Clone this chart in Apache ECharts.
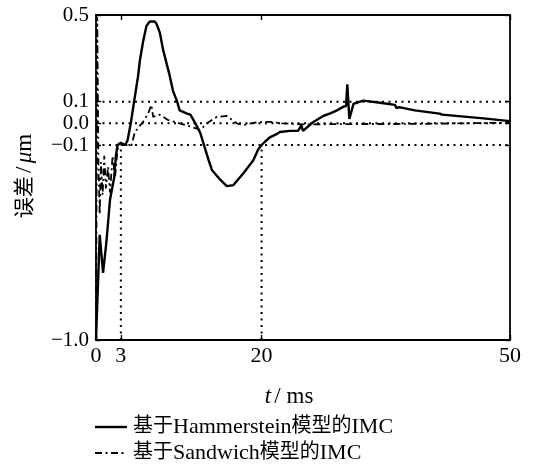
<!DOCTYPE html>
<html>
<head>
<meta charset="utf-8">
<script src="https://cdn.jsdelivr.net/npm/echarts@6/dist/echarts.min.js"></script>
<style>
  html, body { margin: 0; padding: 0; background: #fff; }
  #chart { width: 533px; height: 466px; }
</style>
</head>
<body>
<div id="chart"></div>
<script>
// Tracking error over time (ms) for two IMC controllers
const xTicks = [0, 3, 20, 50];
const yTicks = [-1.0, -0.1, 0.0, 0.1, 0.5];

// Dotted reference levels and the time markers dropped from -0.1
const refLevels = [0.1, 0.0, -0.1];
const refTimes = [3, 20];

// IMC based on the Hammerstein model (solid)
const hammT = [0, 0.45, 0.85, 1.25, 1.7, 2.2, 2.4, 2.6, 3.0, 3.5, 3.8, 4.2, 4.6, 5.07, 5.3, 5.7, 6.1, 6.5, 7.1, 7.3, 7.5, 7.7, 8.1, 8.9, 9.3, 9.8, 10.1, 11.0, 11.4, 12.0, 12.6, 13.2, 13.6, 14.0, 15.0, 15.8, 16.6, 17.8, 19.0, 19.6, 20.0, 20.4, 21.0, 21.8, 22.2, 23.4, 24.4, 24.8, 25.0, 26.2, 27.5, 28.3, 29.1, 29.9, 30.2, 30.35, 30.6, 31.1, 31.9, 32.3, 34.3, 36.1, 36.3, 36.6, 38.5, 41.5, 41.8, 46.8, 50];
const hammV = [-1.0, -0.515, -0.69, -0.55, -0.35, -0.25, -0.15, -0.1, -0.09, -0.1, -0.08, 0.0, 0.1, 0.215, 0.29, 0.38, 0.45, 0.47, 0.47, 0.46, 0.44, 0.42, 0.34, 0.22, 0.15, 0.1, 0.06, 0.045, 0.04, 0.0, -0.045, -0.12, -0.17, -0.215, -0.26, -0.29, -0.285, -0.23, -0.17, -0.12, -0.1, -0.085, -0.065, -0.05, -0.04, -0.035, -0.035, -0.01, -0.035, 0.005, 0.035, 0.046, 0.06, 0.077, 0.08, 0.18, 0.02, 0.09, 0.1, 0.105, 0.095, 0.085, 0.07, 0.075, 0.06, 0.045, 0.04, 0.023, 0.01];

// IMC based on the Sandwich model (dash-dot)
const sandT = [0, 0.15, 0.3, 0.45, 0.6, 0.8, 1.0, 1.2, 1.45, 1.7, 2.0, 2.3, 2.6, 3.0, 4.3, 4.7, 5.2, 5.7, 6.3, 6.7, 6.9, 7.7, 8.7, 10.1, 11.4, 12.6, 13.4, 14.6, 15.8, 17.0, 17.8, 19.4, 21.0, 22.5, 25.0, 28.0, 32.0, 36.0, 40.0, 44.0, 48.0, 50.0];
const sandV = [-1.0, 0.49, -0.2, -0.42, -0.18, -0.33, -0.15, -0.3, -0.2, -0.32, -0.15, -0.25, -0.12, -0.1, -0.1, -0.04, -0.015, 0.007, 0.046, 0.085, 0.03, 0.04, 0.015, 0.0, -0.015, -0.03, 0.0, 0.03, 0.034, 0.0, -0.008, 0.005, 0.007, 0.0, -0.005, -0.004, -0.003, -0.003, -0.002, 0.0, 0.002, 0.003];

const legendNames = ['基于Hammerstein模型的IMC', '基于Sandwich模型的IMC'];

const zip = (xs, ys) => xs.map((x, i) => [x, ys[i]]);
const SERIF = '"Liberation Serif", "Times New Roman", "Noto Sans CJK SC", serif';
const dotted = { color: '#000', width: 2, type: [2, 4.5] };
const DASHDOT = [7, 3.5, 2, 3.5];

const fmtY = v => (v < 0 ? '\u2212' : '') + Math.abs(v).toFixed(1);

const refSeries = [];
refLevels.forEach(lv => {
  refSeries.push({
    type: 'line', data: [[xTicks[0], lv], [xTicks[xTicks.length - 1], lv]],
    symbol: 'none', silent: true, z: 1, lineStyle: dotted
  });
});
refTimes.forEach(t => {
  refSeries.push({
    type: 'line', data: [[t, yTicks[0]], [t, refLevels[2]]],
    symbol: 'none', silent: true, z: 1, lineStyle: dotted
  });
});

const frameAxis = {
  axisLine: { show: true, onZero: false, lineStyle: { color: '#000', width: 1.8 } },
  splitLine: { show: false }
};
const tickStyle = { color: '#000', width: 1.4 };

const chart = echarts.init(document.getElementById('chart'), null, { renderer: 'canvas' });
chart.setOption({
  animation: false,
  backgroundColor: '#fff',
  grid: { left: 96, right: 23, top: 15, bottom: 126 },
  xAxis: [
    Object.assign({}, frameAxis, {
      type: 'value', min: 0, max: 50, position: 'bottom',
      axisTick: { show: true, inside: true, length: 5, customValues: xTicks, lineStyle: tickStyle },
      axisLabel: { customValues: xTicks, color: '#000', fontFamily: SERIF, fontSize: 22, margin: 5 }
    }),
    Object.assign({}, frameAxis, {
      type: 'value', min: 0, max: 50, position: 'top',
      axisTick: { show: true, inside: true, length: 5, customValues: xTicks, lineStyle: tickStyle },
      axisLabel: { show: false }
    })
  ],
  yAxis: [
    Object.assign({}, frameAxis, {
      type: 'value', min: -1, max: 0.5, position: 'left',
      axisTick: { show: true, inside: true, length: 5, customValues: yTicks, lineStyle: tickStyle },
      axisLabel: { customValues: yTicks, formatter: fmtY, color: '#000', fontFamily: SERIF, fontSize: 21, margin: 7 }
    }),
    Object.assign({}, frameAxis, {
      type: 'value', min: -1, max: 0.5, position: 'right',
      axisTick: { show: true, inside: true, length: 5, customValues: yTicks, lineStyle: tickStyle },
      axisLabel: { show: false }
    })
  ],
  series: refSeries.concat([
    {
      name: legendNames[1], type: 'line', data: zip(sandT, sandV),
      symbol: 'none', z: 3,
      lineStyle: { color: '#000', width: 1.8, type: DASHDOT }
    },
    {
      name: legendNames[0], type: 'line', data: zip(hammT, hammV),
      symbol: 'none', z: 4,
      lineStyle: { color: '#000', width: 2.4 }
    }
  ]),
  graphic: [
    {
      type: 'text', x: 25, y: 176, rotation: Math.PI / 2,
      style: {
        text: '{c|误差} {l|/} {i|μ}{l|m}',
        align: 'center', verticalAlign: 'middle', fill: '#000',
        rich: {
          c: { fontFamily: SERIF, fontSize: 21, fill: '#000' },
          l: { fontFamily: SERIF, fontSize: 23, fill: '#000' },
          i: { fontFamily: SERIF, fontSize: 23, fontStyle: 'italic', fill: '#000' }
        }
      }
    },
    {
      type: 'text', x: 289, y: 397,
      style: {
        text: '{i|t} {l|/ ms}',
        align: 'center', verticalAlign: 'middle', fill: '#000',
        rich: {
          i: { fontFamily: SERIF, fontSize: 23, fontStyle: 'italic', fill: '#000' },
          l: { fontFamily: SERIF, fontSize: 23, fill: '#000' }
        }
      }
    },
    {
      type: 'line', shape: { x1: 95, y1: 427, x2: 127, y2: 427 },
      style: { stroke: '#000', lineWidth: 2.4 }
    },
    {
      type: 'line', shape: { x1: 95, y1: 453, x2: 127, y2: 453 },
      style: { stroke: '#000', lineWidth: 1.8, lineDash: DASHDOT }
    },
    {
      type: 'text', x: 133, y: 427,
      style: {
        text: '{c|基于}{l|Hammerstein}{c|模型的}{l|IMC}',
        verticalAlign: 'middle', fill: '#000',
        rich: {
          c: { fontFamily: SERIF, fontSize: 20, fill: '#000' },
          l: { fontFamily: SERIF, fontSize: 22, fill: '#000' }
        }
      }
    },
    {
      type: 'text', x: 133, y: 453,
      style: {
        text: '{c|基于}{l|Sandwich}{c|模型的}{l|IMC}',
        verticalAlign: 'middle', fill: '#000',
        rich: {
          c: { fontFamily: SERIF, fontSize: 20, fill: '#000' },
          l: { fontFamily: SERIF, fontSize: 22, fill: '#000' }
        }
      }
    }
  ]
});
</script>
</body>
</html>
